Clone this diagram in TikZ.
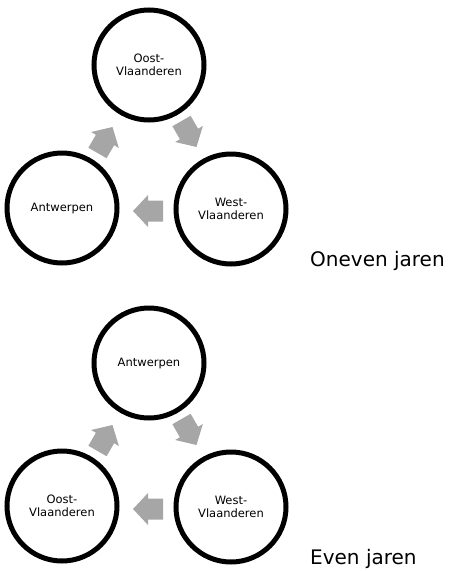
\documentclass[tikz,border=0pt]{standalone}
\usepackage{fontspec}
\setmainfont{DejaVu Sans}
\definecolor{arrowgray}{HTML}{A6A6A6}
\begin{document}
\begin{tikzpicture}[x=1pt,y=-1pt,
  circ/.style={circle,draw=black,line width=5pt,minimum size=110pt,inner sep=0pt,align=center,font=\fontsize{11.5}{13.5}\selectfont},
  blockarrow/.style={fill=arrowgray},
  yeartext/.style={anchor=base west,inner sep=0pt,font=\fontsize{20}{24}\selectfont}]
\useasboundingbox (0,0) rectangle (471,571);
% ---------- Oneven jaren ----------
\node[circ] (a1) at (149,65) {Oost-\\Vlaanderen};
\node[circ] (b1) at (231,209) {West-\\Vlaanderen};
\node[circ] (c1) at (62,208) {Antwerpen};
\fill[blockarrow,shift={(189,134)},rotate=-60] (-15,-10.5) -- (0,-10.5) -- (0,-16) -- (15,0) -- (0,16) -- (0,10.5) -- (-15,10.5) -- cycle;
\fill[blockarrow,shift={(148,211)},rotate=180] (-15,-10.5) -- (0,-10.5) -- (0,-16) -- (15,0) -- (0,16) -- (0,10.5) -- (-15,10.5) -- cycle;
\fill[blockarrow,shift={(105,140)},rotate=60] (-15,-10.5) -- (0,-10.5) -- (0,-16) -- (15,0) -- (0,16) -- (0,10.5) -- (-15,10.5) -- cycle;
\node[yeartext] (t1) at (310,266) {Oneven jaren};
% ---------- Even jaren ----------
\node[circ] (a2) at (149,363) {Antwerpen};
\node[circ] (b2) at (231,507) {West-\\Vlaanderen};
\node[circ] (c2) at (62,506) {Oost-\\Vlaanderen};
\fill[blockarrow,shift={(189,432)},rotate=-60] (-15,-10.5) -- (0,-10.5) -- (0,-16) -- (15,0) -- (0,16) -- (0,10.5) -- (-15,10.5) -- cycle;
\fill[blockarrow,shift={(148,509)},rotate=180] (-15,-10.5) -- (0,-10.5) -- (0,-16) -- (15,0) -- (0,16) -- (0,10.5) -- (-15,10.5) -- cycle;
\fill[blockarrow,shift={(105,438)},rotate=60] (-15,-10.5) -- (0,-10.5) -- (0,-16) -- (15,0) -- (0,16) -- (0,10.5) -- (-15,10.5) -- cycle;
\node[yeartext] (t2) at (310,564) {Even jaren};
\end{tikzpicture}
\end{document}
